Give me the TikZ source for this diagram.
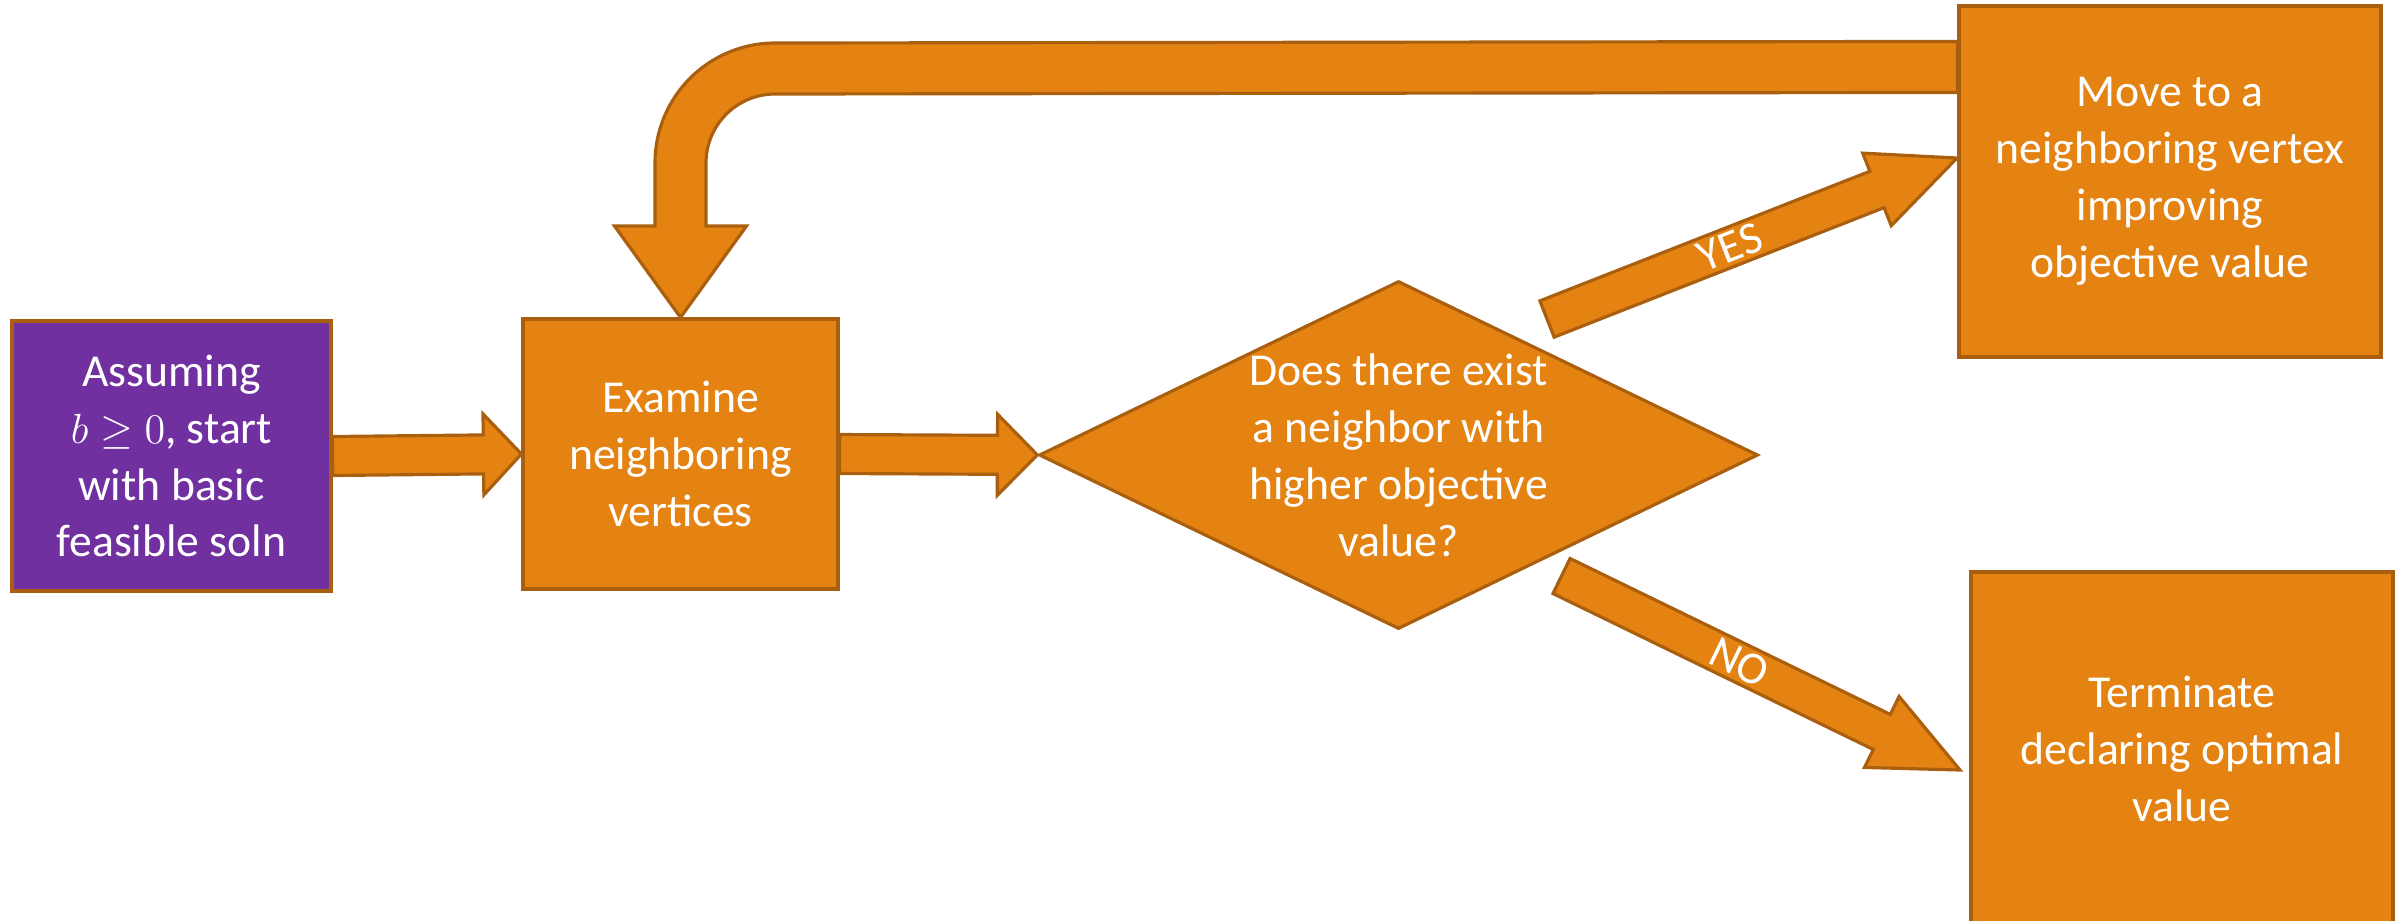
\documentclass[tikz,border=0pt]{standalone}
\usepackage{fontspec}
\setmainfont{Carlito}
\usetikzlibrary{calc,shapes.geometric}

\definecolor{boxfill}{RGB}{228,130,18}
\definecolor{boxedge}{RGB}{170,95,15}
\definecolor{startfill}{RGB}{112,48,160}

\newcommand\arrowshaft{0.195cm}
% fat arrow: from, to, head length, half head width
\newcommand\blockarrow[4]{%
  \coordinate (neck) at ($(#2)!#3!(#1)$);
  \draw[flow arrow] ($(#1)!\arrowshaft!90:(#2)$) -- ($(neck)!\arrowshaft!90:(#2)$)
    -- ($(neck)!#4!90:(#2)$) -- (#2) -- ($(neck)!#4!-90:(#2)$)
    -- ($(neck)!\arrowshaft!-90:(#2)$) -- ($(#1)!\arrowshaft!-90:(#2)$) -- cycle;}

\begin{document}
\begin{tikzpicture}[x=1cm,y=-1cm,
    every node/.style={font=\fontsize{13}{16.2}\selectfont,text=white,align=center},
    step box/.style={rectangle,draw=boxedge,fill=boxfill,line width=0.9pt,minimum width=4.22cm,minimum height=3.51cm},
    start box/.style={step box,fill=startfill,minimum width=3.19cm,minimum height=2.70cm},
    test box/.style={diamond,draw=boxedge,fill=boxfill,line width=0.9pt,inner sep=0pt,shape aspect=2.07,minimum width=7.19cm,minimum height=3.48cm},
    flow arrow/.style={draw=boxedge,fill=boxfill,line width=0.9pt,line join=miter}]

  \useasboundingbox (0,0) rectangle (24.05,9.20);

  \node[start box] (start) at (1.715,4.56) {Assuming\\ $b \geq 0$, start\\ with basic\\ feasible soln};
  \node[step box,minimum width=3.15cm,minimum height=2.70cm] (examine) at (6.805,4.54) {Examine\\ neighboring\\ vertices};
  \node[test box] (decide) at (13.985,4.55) {};
  \node (decide text) at (decide) {Does there exist\\ a neighbor with\\ higher objective\\ value?};
  \node[step box] (move) at (21.70,1.815) {Move to a\\ neighboring vertex\\ improving\\ objective value};
  \node[step box,minimum height=3.54cm] (stop) at (21.82,7.49) {Terminate\\ declaring optimal\\ value};

  % loop back from the move box
  \draw[flow arrow] ($(move.north west)+(0,0.37)$) -- (7.75,0.43)
    .. controls (7.087,0.43) and (6.55,0.967) .. (6.55,1.63) -- (6.55,2.26) -- (6.145,2.26)
    -- (examine.north) -- (7.465,2.26) -- (7.06,2.26) -- (7.06,1.63)
    .. controls (7.06,1.249) and (7.369,0.94) .. (7.75,0.94) -- ($(move.north west)+(0,0.88)$) -- cycle;

  \blockarrow{start.east}{examine.west}{0.38cm}{0.405cm}
  \blockarrow{examine.east}{decide.west}{0.40cm}{0.405cm}

  \coordinate (yes tail) at (15.47,3.19);
  \coordinate (yes tip) at (19.57,1.58);
  \blockarrow{yes tail}{yes tip}{0.86cm}{0.39cm}
  \node[rotate=21.4] (yes) at ($(yes tail)!0.446!(yes tip)$) {YES};

  \coordinate (no tail) at (15.615,5.76);
  \coordinate (no tip) at (19.60,7.70);
  \blockarrow{no tail}{no tip}{0.87cm}{0.395cm}
  \node[rotate=-25.9] (no) at ($(no tail)!0.447!(no tip)$) {NO};

\end{tikzpicture}
\end{document}
